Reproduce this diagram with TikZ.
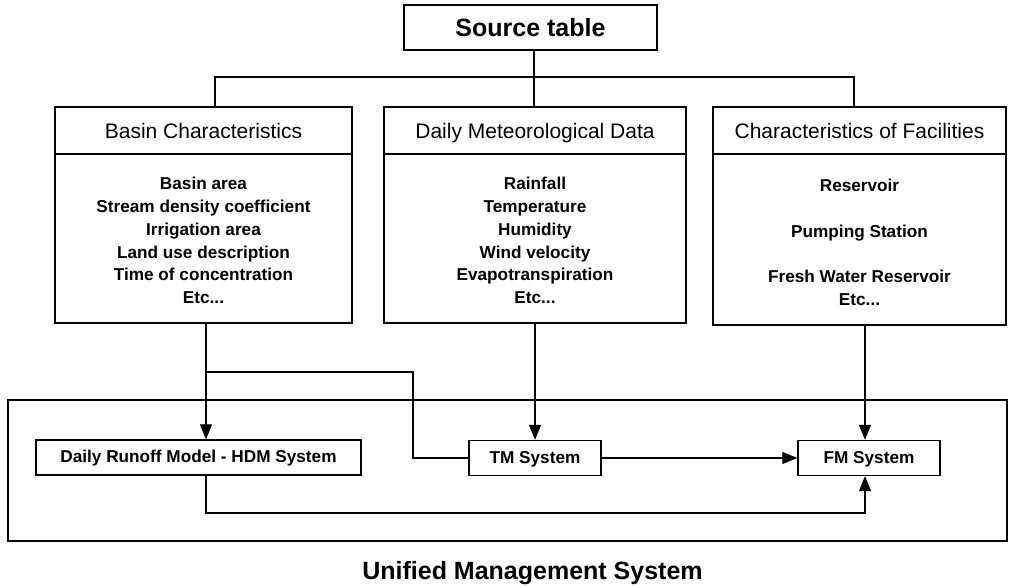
\documentclass[tikz,border=0pt]{standalone}
\usepackage{fontspec}
\setmainfont{Liberation Sans}
\usetikzlibrary{arrows.meta}
\begin{document}
\begin{tikzpicture}[x=1pt,y=-1pt,
  box/.style={draw,line width=1.3pt,inner sep=0pt,align=center},
  head/.style={box,text height=15.5pt,text depth=0.5pt,font=\fontsize{21}{25}\selectfont},
  body/.style={box,font=\bfseries\fontsize{17.2}{22.8}\selectfont},
  sysbox/.style={box,minimum height=35pt,text height=12pt,text depth=2pt,font=\bfseries\fontsize{17.2}{22.8}\selectfont},
  title/.style={inner sep=0pt,font=\bfseries\fontsize{25}{30}\selectfont},
  link/.style={line width=1.2pt},
  arr/.style={link,-{Triangle[length=15pt,width=12pt]}}]
\useasboundingbox (0,0) rectangle (1009,587);

% source table
\node[box,title,draw,line width=1.3pt,minimum width=253pt,minimum height=45pt] (src) at (530.5,27.5) {Source table};

% the three data groups: header and list
\node[head,minimum width=297pt,minimum height=47pt] (basinH) at (203.5,130.5) {Basin Characteristics};
\node[body,minimum width=297pt,minimum height=169pt] (basinB) at (203.5,238.5)
  {\rule{0pt}{16.5pt}Basin area\\Stream density coefficient\\Irrigation area\\Land use description\\Time of concentration\\Etc...};

\node[head,minimum width=302pt,minimum height=47pt] (metH) at (535,130.5) {Daily Meteorological Data};
\node[body,minimum width=302pt,minimum height=169pt] (metB) at (535,238.5)
  {\rule{0pt}{16.5pt}Rainfall\\Temperature\\Humidity\\Wind velocity\\Evapotranspiration\\Etc...};

\node[head,minimum width=293pt,minimum height=47pt] (facH) at (859.5,130.5) {Characteristics of Facilities};
\node[body,minimum width=293pt,minimum height=171pt] (facB) at (859.5,239.5)
  {\rule{0pt}{18.5pt}Reservoir\\[22.8pt]Pumping Station\\[22.8pt]Fresh Water Reservoir\\Etc...};

% unified management system
\node[box,minimum width=999pt,minimum height=141pt] (ums) at (507.5,470.5) {};
\node[sysbox,minimum width=325pt] (hdm) at (198.5,457.5) {Daily Runoff Model - HDM System};
\node[sysbox,minimum width=132pt] (tm) at (535,458) {TM System};
\node[sysbox,minimum width=142pt] (fm) at (869,458) {FM System};
\node[title] (cap) at (532.5,573) {Unified Management System};

% tree from the source table
\coordinate (bus) at (534,77);
\coordinate (busL) at (215,77);
\coordinate (busR) at (854,77);
\draw[link] ([xshift=3.5pt]src.south) -- (bus);
\draw[link] (basinH.north -| busL) -- (busL) -- (busR) -- (facH.north -| busR);
\draw[link] (bus) -- (metH.north -| bus);

% flows into the systems
\coordinate (c1) at (206,372);
\coordinate (c2) at (413,372);
\coordinate (c3) at (865,513);
\draw[arr] (basinB.south -| c1) -- (hdm.north -| c1);
\draw[link] (c1) -- (c2) |- (tm.west);
\draw[arr] (metB.south -| tm.north) -- (tm.north);
\draw[arr] (facB.south -| c3) -- (fm.north -| c3);
\draw[arr] (tm.east) -- (fm.west);
\draw[arr] (hdm.south -| c1) |- (c3) -- (fm.south -| c3);
\end{tikzpicture}
\end{document}
